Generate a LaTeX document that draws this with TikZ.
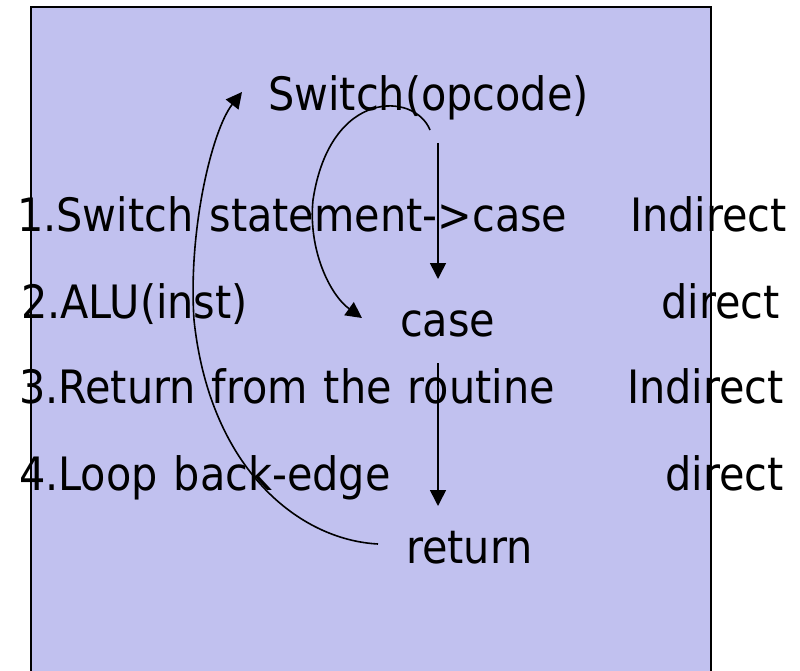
\documentclass[tikz,border=0pt]{standalone}
\usepackage{fontspec}
\setmainfont{DejaVu Sans Condensed}
\usetikzlibrary{arrows.meta}
\definecolor{panel}{RGB}{193,193,239}
\newcommand\slidetext{\fontsize{46}{50}\selectfont}
\newcommand\widespaces{\spaceskip=16pt plus 2pt minus 1pt\relax}

\begin{document}
\begin{tikzpicture}[x=1pt,y=-1pt,
  txt/.style={inner sep=0pt, font=\slidetext, execute at begin node=\widespaces},
  flow/.style={line width=1.6pt, -{Triangle[length=16pt,width=16pt]}}]
\useasboundingbox (0,0) rectangle (800,671);

% background panel
\draw[fill=panel, line width=1.6pt] (31,7) rectangle (711,700);

% control-flow targets
\node[txt, anchor=base west] (sw) at (268,111) {Switch(opcode)};
\node[txt, anchor=base west] (cs) at (400,336) {case};
\node[txt, anchor=base west] (rt) at (406,563) {return};

% numbered list of branch kinds
\node[txt, anchor=base west] (l1) at (17,231) {1.Switch statement->case};
\node[txt, anchor=base west] (l2) at (21,318) {2.ALU(inst)};
\node[txt, anchor=base west] (l3) at (19,403) {3.Return from the routine};
\node[txt, anchor=base west] (l4) at (19,490) {4.Loop back-edge};

\node[txt, anchor=base east] (k1) at (787,231) {Indirect};
\node[txt, anchor=base east] (k2) at (780,318) {direct};
\node[txt, anchor=base east] (k3) at (784,403) {Indirect};
\node[txt, anchor=base east] (k4) at (784,490) {direct};

% connector end points
\coordinate (swA) at (438,143);
\coordinate (csA) at (438,279);
\coordinate (csB) at (438,363);
\coordinate (rtA) at (438,506);
\coordinate (swC) at (430,130);
\coordinate (csC) at (362,318);
\coordinate (rtD) at (378,544);
\coordinate (swD) at (242,92);

% straight-line flow
\draw[flow] (swA) -- (csA);
\draw[flow] (csB) -- (rtA);

% switch jumps to a case
\draw[flow] (swC) .. controls (415,92) and (330,88) .. (313,200)
                  .. controls (308,250) and (330,295) .. (csC);

% return goes back to the switch
\draw[flow] (rtD) .. controls (300,540) and (210,470) .. (194,320)
                  .. controls (188,230) and (212,130) .. (swD);
\end{tikzpicture}
\end{document}
